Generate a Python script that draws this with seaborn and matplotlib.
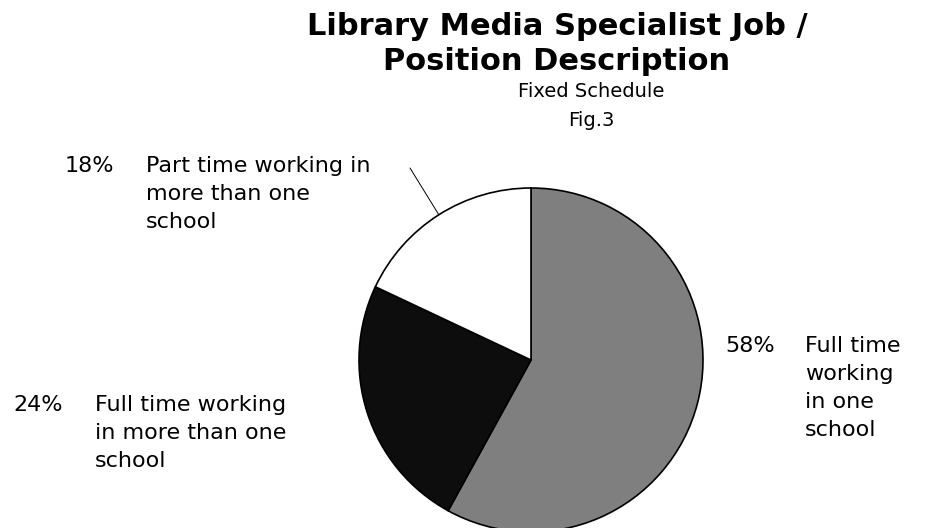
import numpy as np
import matplotlib
matplotlib.use('Agg')
import matplotlib.pyplot as plt
import seaborn as sns

# slices, drawn clockwise from 12 o'clock
shares = [58, 24, 18]
pct_labels = ['58%', '24%', '18%']
desc_labels = ['Full time\nworking\nin one\nschool',
               'Full time working\nin more than one\nschool',
               'Part time working in\nmore than one\nschool']
slice_colors = ['#7f7f7f', '#0d0d0d', '#ffffff']

title = 'Library Media Specialist Job /\nPosition Description'
subtitle = 'Fixed Schedule'
fig_label = 'Fig.3'

W, H = 939, 528


def px(x, y):
    # pixel position (from top-left) -> figure fraction
    return x / W, 1 - y / H


sns.set_theme(style='white')
plt.rcParams['font.family'] = ['DejaVu Sans']
plt.rcParams['text.color'] = 'black'

fig = plt.figure(figsize=(W / 100, H / 100), dpi=100)
fig.patch.set_facecolor('white')

# pie centre ~(531, 360) px, radius ~172 px
cx, cy, r = 531, 360, 172
ax = fig.add_axes([(cx - r) / W, (H - cy - r) / H, 2 * r / W, 2 * r / H])
wedges, _ = ax.pie(shares, colors=slice_colors, startangle=90, counterclock=False,
                   wedgeprops=dict(edgecolor='black', linewidth=1.2))
for w in wedges:
    w.set_clip_on(False)
ax.set_xlim(-1, 1)
ax.set_ylim(-1, 1)
ax.set_aspect('equal')
ax.axis('off')

# titles
fig.text(*px(557, 12), title, ha='center', va='top', fontsize=22, fontweight='bold',
         linespacing=1.24)
fig.text(*px(591, 82), subtitle, ha='center', va='top', fontsize=14)
fig.text(*px(591, 111), fig_label, ha='center', va='top', fontsize=14)

# slice labels: percentage + hanging description
lab_fs = 16
lab_ls = 1.49
label_pos = [((725, 336), (805, 336)),   # 58%
             ((13, 395), (95, 395)),     # 24%
             ((65, 156), (146, 156))]    # 18%
for (p_xy, d_xy), pct, desc in zip(label_pos, pct_labels, desc_labels):
    fig.text(*px(*p_xy), pct, ha='left', va='top', fontsize=lab_fs)
    fig.text(*px(*d_xy), desc, ha='left', va='top', fontsize=lab_fs, linespacing=lab_ls)

# leader line from the 18% label to the white slice
wd = wedges[2]
mid = np.deg2rad((wd.theta1 + wd.theta2) / 2)
ax.annotate('', xy=(np.cos(mid), np.sin(mid)), xycoords='data',
            xytext=(410, H - 168), textcoords='figure pixels',
            arrowprops=dict(arrowstyle='-', color='black', lw=0.7,
                            shrinkA=0, shrinkB=0))

fig.savefig('out.png', dpi=100)
